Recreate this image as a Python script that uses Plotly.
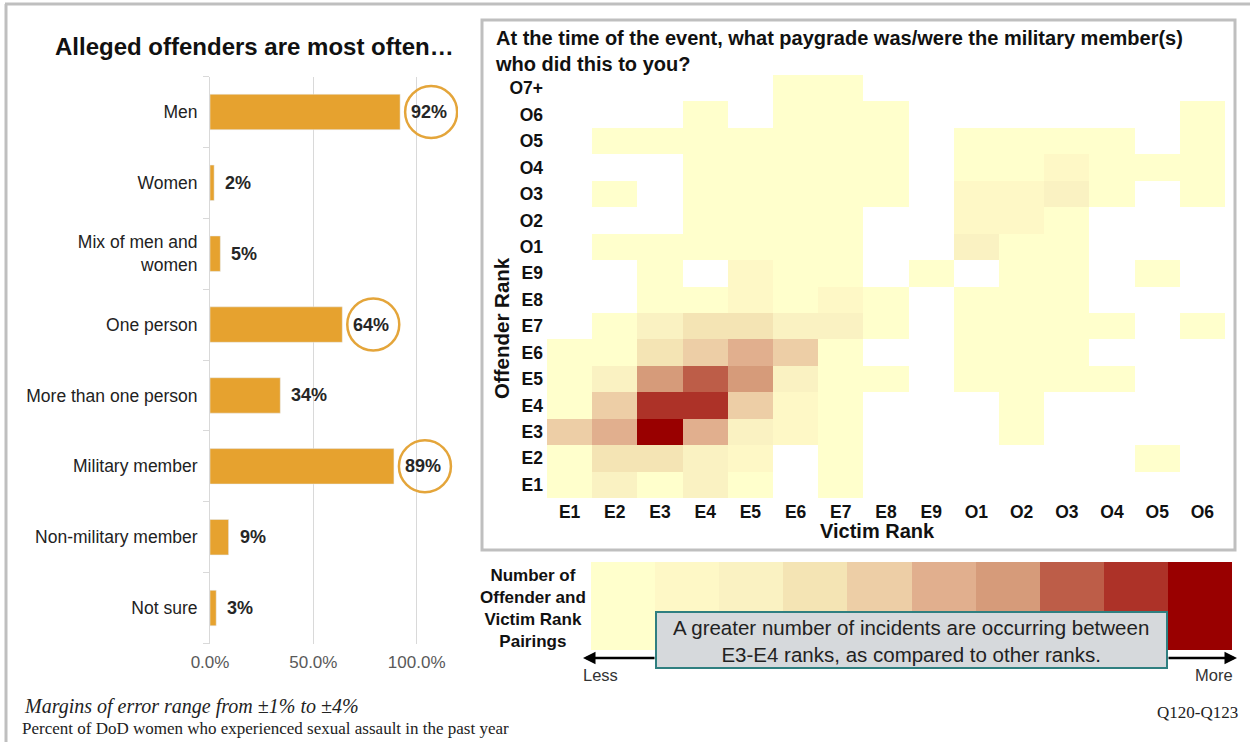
import plotly.graph_objects as go

W, H = 1250, 742

def px(x):
    return x / W

def py(y):
    return 1 - y / H

# ---------------- Data ----------------
bar_categories = ["Men", "Women", "Mix of men and<br>women", "One person",
                  "More than one person", "Military member", "Non-military member", "Not sure"]
bar_values = [92, 2, 5, 64, 34, 89, 9, 3]
bar_labels = ["92%", "2%", "5%", "64%", "34%", "89%", "9%", "3%"]
circled = [True, False, False, True, False, True, False, False]
bar_ticks = [0, 50, 100]
bar_tick_text = ["0.0%", "50.0%", "100.0%"]

victim_ranks = ["E1", "E2", "E3", "E4", "E5", "E6", "E7", "E8", "E9",
                "O1", "O2", "O3", "O4", "O5", "O6"]
offender_ranks = ["E1", "E2", "E3", "E4", "E5", "E6", "E7", "E8", "E9",
                  "O1", "O2", "O3", "O4", "O5", "O6", "O7+"]
# pairing intensity level (0 = none), rows = offender rank, cols = victim rank
row_E1 = [1, 3, 1, 3, 1, 0, 1, 0, 0, 0, 0, 0, 0, 0, 0]
row_E2 = [1, 4, 4, 3, 2, 0, 1, 0, 0, 0, 0, 0, 0, 1, 0]
row_E3 = [5, 6, 10, 6, 3, 2, 1, 0, 0, 0, 1, 0, 0, 0, 0]
row_E4 = [1, 5, 9, 9, 5, 2, 1, 0, 0, 0, 1, 0, 0, 0, 0]
row_E5 = [1, 3, 7, 8, 7, 3, 1, 1, 0, 1, 1, 1, 1, 0, 0]
row_E6 = [1, 1, 4, 5, 6, 5, 1, 0, 0, 1, 1, 1, 0, 0, 0]
row_E7 = [0, 1, 3, 4, 4, 3, 3, 1, 0, 1, 1, 1, 1, 0, 1]
row_E8 = [0, 0, 1, 1, 2, 1, 2, 1, 0, 1, 1, 1, 0, 0, 0]
row_E9 = [0, 0, 1, 0, 2, 1, 1, 0, 1, 0, 1, 1, 0, 1, 0]
row_O1 = [0, 1, 1, 1, 1, 1, 1, 0, 0, 3, 1, 1, 0, 0, 0]
row_O2 = [0, 0, 0, 1, 1, 1, 1, 0, 0, 2, 2, 1, 0, 0, 0]
row_O3 = [0, 1, 0, 1, 1, 1, 1, 1, 0, 2, 2, 3, 1, 0, 1]
row_O4 = [0, 0, 0, 1, 1, 1, 1, 1, 0, 1, 1, 2, 1, 1, 1]
row_O5 = [0, 1, 1, 1, 1, 1, 1, 1, 0, 1, 1, 1, 1, 0, 1]
row_O6 = [0, 0, 0, 1, 0, 1, 1, 1, 0, 0, 0, 0, 0, 0, 1]
row_O7p = [0, 0, 0, 0, 0, 1, 1, 0, 0, 0, 0, 0, 0, 0, 0]

legend_levels = [1, 2, 3, 4, 5, 6, 7, 8, 9, 10]
level_colors = ["#FFFFCC", "#FEF8C6", "#FAF2C2", "#F4E4B4", "#EDCEA6",
                "#E1AF8E", "#D69B7A", "#BD5D48", "#AD3228", "#990000"]

# ---------------- Build ----------------
rows = [row_E1, row_E2, row_E3, row_E4, row_E5, row_E6, row_E7, row_E8, row_E9,
        row_O1, row_O2, row_O3, row_O4, row_O5, row_O6, row_O7p]
z = [[v if v > 0 else None for v in r] for r in rows]

n = len(level_colors)
colorscale = []
for i, c in enumerate(level_colors):
    colorscale.append([i / n, c])
    colorscale.append([(i + 1) / n, c])

FONT = "Arial, Liberation Sans, sans-serif"
SERIF = "Liberation Serif, Times New Roman, serif"
BAR_COLOR = "#E6A22F"

fig = go.Figure()

ypos = list(range(len(bar_categories)))
fig.add_trace(go.Bar(
    x=bar_values, y=ypos, orientation="h", marker_color=BAR_COLOR,
    width=0.5, xaxis="x", yaxis="y", showlegend=False, hoverinfo="skip"))

fig.add_trace(go.Heatmap(
    z=z, x=victim_ranks, y=offender_ranks, colorscale=colorscale,
    zmin=0.5, zmax=10.5, showscale=False, xaxis="x2", yaxis="y2",
    hoverongaps=False))

fig.add_trace(go.Heatmap(
    z=[legend_levels], x=legend_levels, y=[0], colorscale=colorscale,
    zmin=0.5, zmax=10.5, showscale=False, xaxis="x3", yaxis="y3",
    hoverinfo="skip"))

annotations = []
shapes = []


def note(x, y, text, size, color="#111111", family=FONT, xanchor="center",
         yanchor="middle", **kw):
    annotations.append(dict(x=px(x), y=py(y), xref="paper", yref="paper",
                            showarrow=False, text=text, xanchor=xanchor,
                            yanchor=yanchor,
                            font=dict(family=family, size=size, color=color), **kw))


# bar labels and circles
for i, (v, lab, circ) in enumerate(zip(bar_values, bar_labels, circled)):
    annotations.append(dict(
        x=v, y=i, xref="x", yref="y", text="<b>" + lab + "</b>", showarrow=False,
        xanchor="left", yanchor="middle", xshift=9,
        font=dict(family=FONT, size=18, color="#262626")))
    if circ:
        shapes.append(dict(
            type="circle", xref="x", yref="y", xsizemode="pixel", ysizemode="pixel",
            xanchor=v, yanchor=i, x0=5, x1=57, y0=-26, y1=26,
            line=dict(color="#E4A53A", width=2.5), fillcolor="rgba(0,0,0,0)"))

# frames
shapes.append(dict(type="line", xref="paper", yref="paper", x0=px(5), x1=px(1250),
                   y0=py(4), y1=py(4), line=dict(color="#BFBFBF", width=3)))
shapes.append(dict(type="line", xref="paper", yref="paper", x0=px(6), x1=px(6),
                   y0=py(4), y1=py(742), line=dict(color="#BFBFBF", width=3)))
shapes.append(dict(type="rect", xref="paper", yref="paper", x0=px(482), x1=px(1235),
                   y0=py(550), y1=py(20), line=dict(color="#BFBFBF", width=3)))

# callout box
shapes.append(dict(type="rect", xref="paper", yref="paper", x0=px(656), x1=px(1167),
                   y0=py(668), y1=py(612), fillcolor="#D6D9DC",
                   line=dict(color="#2F7F80", width=2)))

# titles
note(255, 47, "<b>Alleged offenders are most often…</b>", 24)
note(493, 51, "<b>At the time of the event, what paygrade was/were the military member(s)<br>who did this to you?</b>",
     20, xanchor="left", align="left")
note(877, 531, "<b>Victim Rank</b>", 20)
note(502, 328, "<b>Offender Rank</b>", 20.5, textangle=-90)

# legend labels
note(533, 608, "<b>Number of<br>Offender and<br>Victim Rank<br>Pairings</b>", 17, align="center")
note(600, 675, "Less", 16.5, color="#333333")
note(1214, 675, "More", 16.5, color="#333333")
# arrows
annotations.append(dict(x=px(583), y=py(658), xref="paper", yref="paper", showarrow=True,
                        ax=656 - 583, ay=0, arrowhead=2, arrowsize=1, arrowwidth=2.5,
                        arrowcolor="#000000", text=""))
annotations.append(dict(x=px(1237), y=py(658), xref="paper", yref="paper", showarrow=True,
                        ax=1167 - 1237, ay=0, arrowhead=2, arrowsize=1, arrowwidth=2.5,
                        arrowcolor="#000000", text=""))
note(911, 641, "A greater number of incidents are occurring between<br>E3-E4 ranks, as compared to other ranks.",
     20.5, color="#222222", align="center")

# footer
note(22, 706, "<i>Margins of error range from ±1% to ±4%</i>", 20, color="#222222",
     family=SERIF, xanchor="left")
note(20, 728, "Percent of DoD women who experienced sexual assault in the past year", 17,
     color="#222222", family=SERIF, xanchor="left")
note(1240, 712, "Q120-Q123", 17, color="#222222", family=SERIF, xanchor="right")

TICKFONT_HM = dict(size=17.5, color="#111111", family=FONT)

fig.update_layout(
    width=W, height=H, margin=dict(l=0, r=0, t=0, b=0, pad=0, autoexpand=False),
    paper_bgcolor="white", plot_bgcolor="rgba(0,0,0,0)",
    font=dict(family=FONT),
    xaxis=dict(domain=[px(210), px(458)], range=[0, 120], tickvals=bar_ticks,
               ticktext=bar_tick_text, showgrid=True, gridcolor="#D9D9D9",
               zeroline=False, ticks="", fixedrange=True, automargin=False,
               ticklabelstandoff=6,
               tickfont=dict(size=17, color="#595959"), anchor="y"),
    yaxis=dict(domain=[py(643.5), py(76.5)], range=[len(bar_categories) - 0.5, -0.5],
               tickvals=ypos, ticktext=bar_categories, showgrid=False, zeroline=False,
               showline=True, linecolor="#D9D9D9", linewidth=1, ticks="",
               minor=dict(ticks="outside", tick0=0.5, dtick=1, ticklen=6, tickcolor="#D9D9D9"),
               ticklabelstandoff=8, automargin=False,
               tickfont=dict(size=17.5, color="#222222"), anchor="x"),
    xaxis2=dict(domain=[px(547), px(1225)], anchor="y2", showgrid=False, zeroline=False,
                ticks="", tickfont=TICKFONT_HM, automargin=False,
                tickprefix="<b>", ticksuffix="</b>",
                ticklabelstandoff=1, fixedrange=True),
    yaxis2=dict(domain=[py(498), py(75)], anchor="x2", showgrid=False, zeroline=False,
                ticks="", tickfont=TICKFONT_HM, automargin=False,
                tickprefix="<b>", ticksuffix="</b>",
                ticklabelstandoff=3, fixedrange=True),
    xaxis3=dict(domain=[px(591), px(1232)], anchor="y3", visible=False, automargin=False),
    yaxis3=dict(domain=[py(650), py(562)], anchor="x3", visible=False, automargin=False),
    annotations=annotations, shapes=shapes,
)

fig.write_html("out.html", config={"displayModeBar": False},
               post_script="document.body.style.margin='0px';document.body.style.padding='0px';")
